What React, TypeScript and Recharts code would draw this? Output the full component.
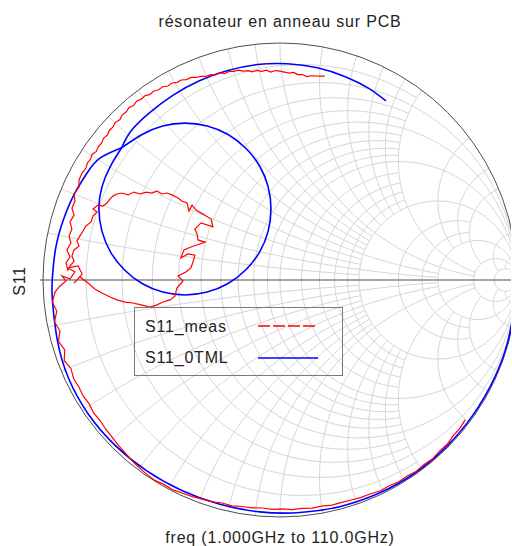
import { ComposedChart, Line, XAxis, YAxis, ReferenceLine } from "recharts";

// S11_0TML : simulated reflection, magnitude + phase (deg)
const tmlPhaseLow = [-5, -15, -25, -35, -45, -55, -65, -75, -85, -95, -105, -115, -125, -135, -145, -155, -165, -175, 180, 172, 164, 157, 151, 146];
const tmlMagLow = [0.997, 0.996, 0.995, 0.994, 0.994, 0.994, 0.992, 0.989, 0.985, 0.982, 0.98, 0.98, 0.982, 0.985, 0.987, 0.984, 0.973, 0.964, 0.961, 0.956, 0.948, 0.94, 0.931, 0.918];

// resonance loop (real / imag)
const tmlLoopRe = [-0.668, -0.582, -0.495, -0.401, -0.307, -0.219, -0.144, -0.086, -0.05, -0.038, -0.05, -0.086, -0.144, -0.219, -0.307, -0.401, -0.495, -0.582, -0.657, -0.715, -0.751, -0.764, -0.751, -0.715, -0.668];
const tmlLoopIm = [0.558, 0.614, 0.65, 0.662, 0.65, 0.614, 0.556, 0.481, 0.394, 0.3, 0.205, 0.118, 0.043, -0.015, -0.051, -0.063, -0.051, -0.015, 0.043, 0.118, 0.205, 0.3, 0.394, 0.481, 0.558];

const tmlPhaseHigh = [135, 128, 120, 112, 104, 96, 88, 80, 72, 65, 59.4];
const tmlMagHigh = [0.889, 0.895, 0.901, 0.907, 0.911, 0.914, 0.913, 0.909, 0.901, 0.891, 0.878];

// S11_meas : measured reflection
const measPhaseLow = [-37, -39.5, -42, -44.5, -47, -49.5, -52, -54.5, -57, -59.5, -62, -64.5, -67, -69.5, -72, -74.5, -77, -79.5, -82, -84.5, -87, -89.5, -92, -94.5, -97, -99.5, -102, -104.5, -107, -109.5, -112, -114.5, -117, -119.5, -122, -124.5, -127, -129.5, -132, -134.5, -137, -139.5, -142, -144.5, -147, -149.5, -152, -154.5, -157, -159.5, -162, -164.5, -167, -169.5, -172, -174.5, -177];
const measMagLow = [0.979, 0.984, 0.983, 0.989, 0.987, 0.992, 0.988, 0.991, 0.986, 0.988, 0.983, 0.985, 0.98, 0.979, 0.976, 0.974, 0.975, 0.97, 0.972, 0.968, 0.97, 0.966, 0.968, 0.965, 0.969, 0.969, 0.974, 0.972, 0.979, 0.981, 0.986, 0.989, 0.994, 0.992, 0.997, 0.994, 0.99, 0.985, 0.979, 0.975, 0.97, 0.968, 0.963, 0.966, 0.96, 0.964, 0.961, 0.965, 0.958, 0.972, 0.955, 0.97, 0.953, 0.968, 0.951, 0.965, 0.95];

const measLoopRe = [-0.928, -0.903, -0.92, -0.886, -0.865, -0.895, -0.852, -0.835, -0.869, -0.844, -0.81, -0.781, -0.751, -0.717, -0.688, -0.654, -0.62, -0.586, -0.549, -0.519, -0.494, -0.464, -0.443, -0.435, -0.409, -0.43, -0.397, -0.376, -0.367, -0.359, -0.388, -0.418, -0.405, -0.376, -0.338, -0.316, -0.346, -0.35, -0.359, -0.333, -0.283, -0.291, -0.325, -0.354, -0.371, -0.384, -0.392, -0.414, -0.43, -0.456, -0.477, -0.498, -0.519, -0.54, -0.565, -0.591, -0.616, -0.641, -0.667, -0.688, -0.705, -0.717, -0.73, -0.747, -0.768, -0.789, -0.772, -0.789, -0.797, -0.819, -0.831, -0.844, -0.857, -0.848, -0.869, -0.878, -0.869, -0.886, -0.895, -0.903, -0.886, -0.899, -0.882, -0.89, -0.878, -0.886, -0.869, -0.878, -0.865, -0.869, -0.848, -0.848, -0.835];
const measLoopIm = [-0.025, -0.004, 0.017, 0.004, 0.034, 0.051, 0.059, 0.025, -0.013, 0.013, -0.013, -0.038, -0.055, -0.072, -0.084, -0.093, -0.097, -0.105, -0.114, -0.105, -0.093, -0.084, -0.068, -0.034, -0.004, 0.017, 0.034, 0.051, 0.076, 0.105, 0.11, 0.093, 0.127, 0.139, 0.152, 0.16, 0.169, 0.194, 0.215, 0.241, 0.224, 0.257, 0.278, 0.295, 0.316, 0.291, 0.325, 0.333, 0.346, 0.359, 0.367, 0.363, 0.376, 0.367, 0.371, 0.363, 0.371, 0.359, 0.367, 0.363, 0.354, 0.342, 0.325, 0.312, 0.316, 0.3, 0.287, 0.27, 0.245, 0.228, 0.207, 0.186, 0.165, 0.143, 0.127, 0.101, 0.08, 0.059, 0.042, 0.072, 0.097, 0.127, 0.156, 0.186, 0.215, 0.245, 0.274, 0.304, 0.333, 0.363, 0.392, 0.422, 0.451];

const measPhaseHigh = [150, 148.75, 147.5, 146.25, 145, 143.75, 142.5, 141.25, 140, 138.75, 137.5, 136.25, 135, 133.75, 132.5, 131.25, 130, 128.75, 127.5, 126.25, 125, 123.75, 122.5, 121.25, 120, 118.75, 117.5, 116.25, 115, 113.75, 112.5, 111.25, 110, 108.75, 107.5, 106.25, 105, 103.75, 102.5, 101.25, 100, 98.75, 97.5, 96.25, 95, 93.75, 92.5, 91.25, 90, 88.75, 87.5, 86.25, 85, 83.75, 82.5, 81.25, 80, 78.75, 77.6];
const measMagHigh = [0.945, 0.951, 0.948, 0.954, 0.946, 0.951, 0.949, 0.955, 0.951, 0.957, 0.956, 0.962, 0.956, 0.963, 0.961, 0.967, 0.961, 0.967, 0.962, 0.964, 0.956, 0.959, 0.952, 0.954, 0.945, 0.948, 0.94, 0.941, 0.933, 0.934, 0.925, 0.922, 0.914, 0.915, 0.907, 0.911, 0.901, 0.906, 0.902, 0.903, 0.895, 0.894, 0.886, 0.89, 0.884, 0.887, 0.878, 0.884, 0.881, 0.877, 0.874, 0.878, 0.87, 0.872, 0.866, 0.872, 0.874, 0.877, 0.881];

// smith grid: value -> how far along the other family the arc is drawn
const rValues = [0.1, 0.2, 0.3, 0.4, 0.5, 0.6, 0.7, 0.8, 0.9, 1, 1.2, 1.4, 1.6, 1.8, 2, 3, 4, 5, 10, 20];
const rLimits = [2, Infinity, 2, 2, Infinity, 2, 2, 2, 2, Infinity, 2, 2, 2, 2, Infinity, 5, 5, Infinity, Infinity, Infinity];
const xValues = [0.1, 0.2, 0.3, 0.4, 0.5, 0.6, 0.7, 0.8, 0.9, 1, 1.2, 1.4, 1.6, 1.8, 2, 3, 4, 5, 10, 20];
const xLimits = [2, 5, 2, 2, 5, 2, 2, 2, 2, 10, 2, 2, 2, 2, 10, 5, 5, 10, 20, 20];

type Pt = { x: number; y: number };
const DEG = Math.PI / 180;

const fromPolar = (mag: number[], phase: number[]): Pt[] =>
  mag.map((m, i) => ({ x: m * Math.cos(phase[i] * DEG), y: m * Math.sin(phase[i] * DEG) }));
const fromRect = (re: number[], im: number[]): Pt[] => re.map((x, i) => ({ x, y: im[i] }));

const toGamma = (r: number, x: number): Pt => {
  const d = (r + 1) ** 2 + x * x;
  return { x: (r * r + x * x - 1) / d, y: (2 * x) / d };
};

function rArc(r: number, lim: number): Pt[] {
  const cx = r / (1 + r);
  const R = 1 / (1 + r);
  let t0 = 0;
  if (isFinite(lim)) {
    const g = toGamma(r, lim);
    t0 = Math.atan2(g.y, g.x - cx);
  }
  const pts: Pt[] = [];
  const n = 72;
  for (let i = 0; i <= n; i++) {
    const t = t0 + ((2 * Math.PI - 2 * t0) * i) / n;
    pts.push({ x: cx + R * Math.cos(t), y: R * Math.sin(t) });
  }
  return pts;
}

function xArc(v: number, lim: number): Pt[] {
  const a = Math.abs(v);
  const cy = 1 / a;
  const R = 1 / a;
  const ang = (p: Pt) => {
    let t = Math.atan2(p.y - cy, p.x - 1);
    if (t < 0) t += 2 * Math.PI;
    return t;
  };
  const a0 = ang(toGamma(0, a));
  const a1 = isFinite(lim) ? ang(toGamma(lim, a)) : 1.5 * Math.PI;
  const pts: Pt[] = [];
  const n = 48;
  for (let i = 0; i <= n; i++) {
    const t = a0 + ((a1 - a0) * i) / n;
    const y = cy + R * Math.sin(t);
    pts.push({ x: 1 + R * Math.cos(t), y: v < 0 ? -y : y });
  }
  return pts;
}

const gridLines: Pt[][] = [
  ...rValues.map((r, i) => rArc(r, rLimits[i])),
  ...xValues.flatMap((v, i) => [xArc(v, xLimits[i]), xArc(-v, xLimits[i])]),
];
const outerCircle = rArc(0, Infinity);

const tmlLoop = fromRect(tmlLoopRe, tmlLoopIm);
const tmlSegments: Pt[][] = [
  [...fromPolar(tmlMagLow, tmlPhaseLow), tmlLoop[0]],
  tmlLoop,
  [tmlLoop[tmlLoop.length - 1], ...fromPolar(tmlMagHigh, tmlPhaseHigh)],
];
const measData: Pt[] = [
  ...fromPolar(measMagLow, measPhaseLow),
  ...fromRect(measLoopRe, measLoopIm),
  ...fromPolar(measMagHigh, measPhaseHigh),
];

const FONT = '"Liberation Sans", Arial, sans-serif';
const PAD = 3 / 237;

export default function App() {
  const text: React.CSSProperties = {
    position: "absolute",
    fontSize: 16,
    lineHeight: "18px",
    letterSpacing: 0.8,
    color: "#222",
    whiteSpace: "nowrap",
  };
  return (
    <div style={{ position: "absolute", left: 0, top: 0, width: 512, height: 546, background: "#fff", fontFamily: FONT, overflow: "hidden" }}>
      <ComposedChart width={512} height={546} margin={{ top: 40, right: 1, bottom: 26, left: 40 }}>
        <XAxis type="number" dataKey="x" domain={[-1 - PAD, 0.975]} allowDataOverflow hide />
        <YAxis type="number" domain={[-1 - PAD, 1 + PAD]} allowDataOverflow hide />
        {gridLines.map((pts, i) => (
          <Line key={`g${i}`} data={pts} dataKey="y" type="linear" stroke="#d6d6d6" strokeWidth={1} dot={false} activeDot={false} isAnimationActive={false} legendType="none" />
        ))}
        <ReferenceLine y={0} stroke="#4d4d4d" strokeWidth={1} />
        <Line data={outerCircle} dataKey="y" type="linear" stroke="#4d4d4d" strokeWidth={1} dot={false} activeDot={false} isAnimationActive={false} legendType="none" />
        {tmlSegments.map((pts, i) => (
          <Line key={`t${i}`} data={pts} dataKey="y" type="natural" stroke="#0000ff" strokeWidth={1.6} dot={false} activeDot={false} isAnimationActive={false} />
        ))}
        <Line data={measData} dataKey="y" type="linear" stroke="#ff0000" strokeWidth={1.2} dot={false} activeDot={false} isAnimationActive={false} />
      </ComposedChart>

      <div style={{ ...text, left: 130, width: 300, top: 13, textAlign: "center" }}>résonateur en anneau sur PCB</div>
      <div style={{ ...text, left: 130, width: 300, top: 529, textAlign: "center" }}>freq (1.000GHz to 110.0GHz)</div>
      <div style={{ ...text, left: 19.5, top: 281, transform: "translate(-50%, -50%) rotate(-90deg)" }}>S11</div>

      <div style={{ position: "absolute", left: 134, top: 307, width: 207, height: 67, border: "1px solid #7a7a7a" }}>
        <div style={{ ...text, left: 10, top: 10 }}>S11_meas</div>
        <div style={{ ...text, left: 10, top: 41 }}>S11_0TML</div>
        <svg width={207} height={67} style={{ position: "absolute", left: 0, top: 0 }}>
          <path d="M123 18 H183" fill="none" style={{ stroke: "#ff0000", strokeWidth: 1.5, strokeDasharray: "12 3" }} />
          <path d="M123 50 H183" fill="none" style={{ stroke: "#0000ff", strokeWidth: 1.6 }} />
        </svg>
      </div>
    </div>
  );
}
